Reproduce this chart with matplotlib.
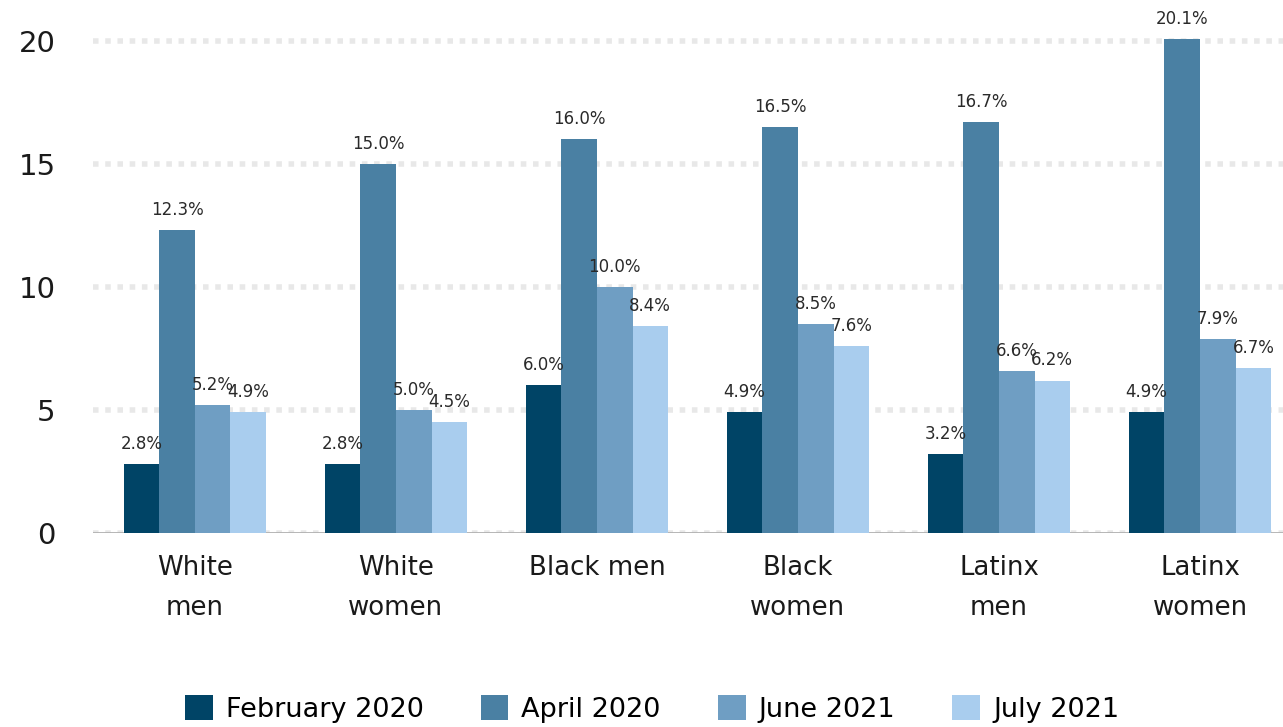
import numpy as np
import matplotlib.pyplot as plt

categories = ["White\nmen", "White\nwomen", "Black men", "Black\nwomen", "Latinx\nmen", "Latinx\nwomen"]
series = ["February 2020", "April 2020", "June 2021", "July 2021"]
feb_2020 = [2.8, 2.8, 6.0, 4.9, 3.2, 4.9]
apr_2020 = [12.3, 15.0, 16.0, 16.5, 16.7, 20.1]
jun_2021 = [5.2, 5.0, 10.0, 8.5, 6.6, 7.9]
jul_2021 = [4.9, 4.5, 8.4, 7.6, 6.2, 6.7]
colors = ["#004466", "#4a80a3", "#6f9ec3", "#a9cdee"]

plt.rcParams['font.family'] = ['DejaVu Sans']

fig = plt.figure(figsize=(12.83, 7.27), dpi=100)
ax = fig.add_axes([93 / 1283, 1 - 533 / 727, 1 - 93 / 1283, 533 / 727])

x = np.arange(len(categories))
w = 0.177
values = [feb_2020, apr_2020, jun_2021, jul_2021]
for k, (name, vals) in enumerate(zip(series, values)):
    pos = x + (k - 1.5) * w
    bars = ax.bar(pos, vals, w, color=colors[k], label=name, zorder=3, clip_on=False)
    for b, v in zip(bars, vals):
        ax.annotate(f"{v:.1f}%", (b.get_x() + b.get_width() / 2, v),
                    xytext=(0, 8), textcoords="offset points",
                    ha="center", va="bottom", fontsize=12, color="#2a2a2a",
                    zorder=4, annotation_clip=False)

ax.set_xlim(-0.507, 5.413)
ax.set_ylim(0, 21.67)
ax.set_yticks([0, 5, 10, 15, 20])
ax.set_yticklabels(["0", "5", "10", "15", "20"], fontsize=21)
ax.set_xticks(x)
ax.set_xticklabels(categories, linespacing=1.7, fontsize=18.7)
ax.tick_params(axis='both', length=0, colors="#1a1a1a")
ax.tick_params(axis='y', pad=27)
ax.tick_params(axis='x', pad=16)

for s in ax.spines.values():
    s.set_visible(False)
ax.yaxis.grid(True, color="#e8e8e8", linewidth=4, linestyle=(0, (1, 1.2)), zorder=0)
ax.axhline(0, color="#b0b0b0", linewidth=2, zorder=2)

handles, labels = ax.get_legend_handles_labels()
fig.legend(handles, labels, loc="center", bbox_to_anchor=(652 / 1283, 1 - 709 / 727),
           ncol=4, frameon=False, fontsize=19.5, handlelength=1.03, handleheight=1.03,
           handletextpad=0.48, columnspacing=2.1)

fig.savefig("out.png", dpi=100)
